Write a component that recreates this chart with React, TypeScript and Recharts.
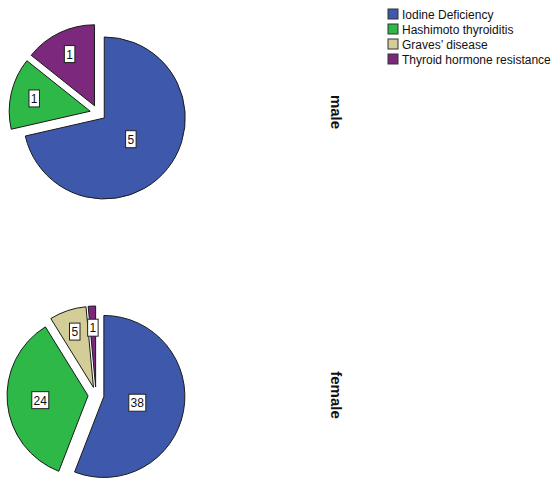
import { PieChart, Pie, Cell, Sector, Customized } from 'recharts'

const categories = ['Iodine Deficiency', 'Hashimoto thyroiditis', 'Graves’ disease', 'Thyroid hormone resistance']
const colors = ['#3E58AC', '#2EB848', '#D3CE97', '#7C287D']
const maleValues = [5, 1, 0, 1]
const femaleValues = [38, 24, 5, 1]
const panelLabels = ['male', 'female']

const RADIAN = Math.PI / 180
const EXPLODE = 8
const RADIUS = 81

const maleData = categories.map((name, i) => ({ name, value: maleValues[i] }))
const femaleData = categories.map((name, i) => ({ name, value: femaleValues[i] }))

function ExplodedSector(props: any) {
  const { cx, cy, innerRadius, outerRadius, startAngle, endAngle, fill, stroke } = props
  if (startAngle === endAngle) return <g />
  const mid = (startAngle + endAngle) / 2
  const dx = EXPLODE * Math.cos(-mid * RADIAN)
  const dy = EXPLODE * Math.sin(-mid * RADIAN)
  return (
    <Sector
      cx={cx + dx}
      cy={cy + dy}
      innerRadius={innerRadius}
      outerRadius={outerRadius}
      startAngle={startAngle}
      endAngle={endAngle}
      fill={fill}
      stroke={stroke}
      strokeWidth={1}
    />
  )
}

function renderLabel(props: any) {
  const { cx, cy, startAngle, endAngle, outerRadius, value } = props
  if (!value) return null
  const mid = (startAngle + endAngle) / 2
  const half = (Math.abs(endAngle - startAngle) / 2) * RADIAN
  const centroid = (2 * outerRadius * Math.sin(half)) / (3 * half)
  const dist = EXPLODE + Math.max(centroid * 1.1, 0.42 * outerRadius)
  const x = cx + dist * Math.cos(-mid * RADIAN)
  const y = cy + dist * Math.sin(-mid * RADIAN)
  const txt = String(value)
  const w = 4 + txt.length * 6.5
  const h = 17
  return (
    <g>
      <rect x={x - w / 2} y={y - h / 2} width={w} height={h} fill="#fff" stroke="#222" strokeWidth={1} />
      <text x={x} y={y + 4.5} textAnchor="middle" fontSize={12} fontFamily="Liberation Sans, Arial, sans-serif" fill="#111">
        {txt}
      </text>
    </g>
  )
}

function LegendAndTitles() {
  return (
    <g fontFamily="Liberation Sans, Arial, sans-serif">
      {categories.map((name, i) => (
        <g key={name}>
          <rect x={388} y={9 + i * 15} width={10} height={10} fill={colors[i]} stroke="#333" strokeWidth={1} />
          <text x={402} y={18.5 + i * 15} fontSize={12} fill="#111">{name}</text>
        </g>
      ))}
      <text x={0} y={0} transform="translate(331,112) rotate(90)" textAnchor="middle" fontSize={15} fontWeight="bold" fill="#111">
        {panelLabels[0]}
      </text>
      <text x={0} y={0} transform="translate(331,395) rotate(90)" textAnchor="middle" fontSize={15} fontWeight="bold" fill="#111">
        {panelLabels[1]}
      </text>
    </g>
  )
}

export default function App() {
  const pieProps: any = {
    dataKey: 'value',
    nameKey: 'name',
    outerRadius: RADIUS,
    startAngle: 90,
    endAngle: -270,
    stroke: '#1a1a1a',
    isAnimationActive: false,
    labelLine: false,
    label: renderLabel,
    shape: ExplodedSector,
    activeShape: ExplodedSector,
    inactiveShape: ExplodedSector,
  }
  return (
    <div style={{ position: 'absolute', left: 0, top: 0, background: '#fff' }}>
      <PieChart width={552} height={479}>
        <Pie data={maleData} cx={93} cy={108} {...pieProps}>
          {maleData.map((d, i) => (
            <Cell key={d.name} fill={colors[i]} />
          ))}
        </Pie>
        <Pie data={femaleData} cx={91} cy={390} {...pieProps}>
          {femaleData.map((d, i) => (
            <Cell key={d.name} fill={colors[i]} />
          ))}
        </Pie>
        <Customized component={LegendAndTitles} />
      </PieChart>
    </div>
  )
}
